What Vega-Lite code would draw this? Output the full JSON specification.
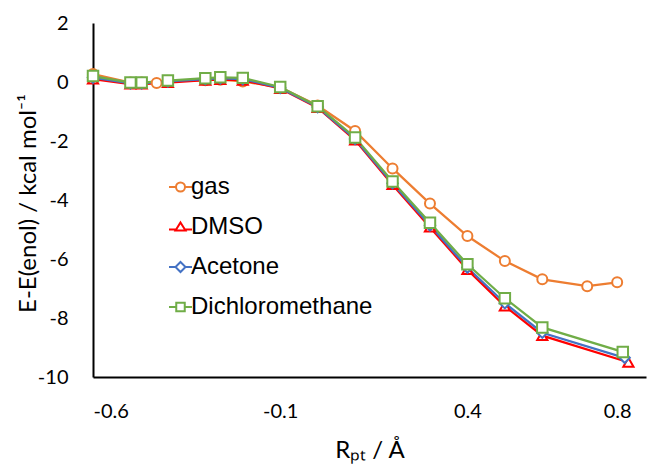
{
  "$schema": "https://vega.github.io/schema/vega-lite/v6.json",
  "width": 553,
  "height": 354,
  "autosize": {"type": "none"},
  "padding": {"left": 93, "top": 23, "right": 3, "bottom": 94},
  "background": "white",
  "config": {"view": {"stroke": null}},
  "data": {"values": [
    {"s": "gas", "x": -0.6, "y": 0.27},
    {"s": "gas", "x": -0.5, "y": -0.02},
    {"s": "gas", "x": -0.47, "y": -0.02},
    {"s": "gas", "x": -0.43, "y": -0.03},
    {"s": "gas", "x": -0.4, "y": 0.02},
    {"s": "gas", "x": -0.3, "y": 0.06},
    {"s": "gas", "x": -0.26, "y": 0.08},
    {"s": "gas", "x": -0.2, "y": 0.02},
    {"s": "gas", "x": -0.1, "y": -0.18},
    {"s": "gas", "x": 0.0, "y": -0.8},
    {"s": "gas", "x": 0.1, "y": -1.66},
    {"s": "gas", "x": 0.2, "y": -2.93},
    {"s": "gas", "x": 0.3, "y": -4.12},
    {"s": "gas", "x": 0.4, "y": -5.22},
    {"s": "gas", "x": 0.5, "y": -6.07},
    {"s": "gas", "x": 0.6, "y": -6.69},
    {"s": "gas", "x": 0.72, "y": -6.92},
    {"s": "gas", "x": 0.8, "y": -6.79},
    {"s": "DMSO", "x": -0.6, "y": 0.1},
    {"s": "DMSO", "x": -0.5, "y": -0.07},
    {"s": "DMSO", "x": -0.47, "y": -0.07},
    {"s": "DMSO", "x": -0.4, "y": -0.02},
    {"s": "DMSO", "x": -0.3, "y": 0.06},
    {"s": "DMSO", "x": -0.26, "y": 0.08},
    {"s": "DMSO", "x": -0.2, "y": 0.06},
    {"s": "DMSO", "x": -0.1, "y": -0.22},
    {"s": "DMSO", "x": 0.0, "y": -0.87},
    {"s": "DMSO", "x": 0.1, "y": -1.97},
    {"s": "DMSO", "x": 0.2, "y": -3.48},
    {"s": "DMSO", "x": 0.3, "y": -4.92},
    {"s": "DMSO", "x": 0.4, "y": -6.36},
    {"s": "DMSO", "x": 0.5, "y": -7.6},
    {"s": "DMSO", "x": 0.6, "y": -8.6},
    {"s": "DMSO", "x": 0.83, "y": -9.5},
    {"s": "Acetone", "x": -0.6, "y": 0.15},
    {"s": "Acetone", "x": -0.5, "y": -0.05},
    {"s": "Acetone", "x": -0.47, "y": -0.05},
    {"s": "Acetone", "x": -0.4, "y": 0.02},
    {"s": "Acetone", "x": -0.3, "y": 0.1},
    {"s": "Acetone", "x": -0.26, "y": 0.12},
    {"s": "Acetone", "x": -0.2, "y": 0.1},
    {"s": "Acetone", "x": -0.1, "y": -0.2},
    {"s": "Acetone", "x": 0.0, "y": -0.85},
    {"s": "Acetone", "x": 0.1, "y": -1.93},
    {"s": "Acetone", "x": 0.2, "y": -3.43},
    {"s": "Acetone", "x": 0.3, "y": -4.86},
    {"s": "Acetone", "x": 0.4, "y": -6.29},
    {"s": "Acetone", "x": 0.5, "y": -7.5},
    {"s": "Acetone", "x": 0.6, "y": -8.5},
    {"s": "Acetone", "x": 0.82, "y": -9.35},
    {"s": "Dichloromethane", "x": -0.6, "y": 0.2},
    {"s": "Dichloromethane", "x": -0.5, "y": -0.02},
    {"s": "Dichloromethane", "x": -0.47, "y": -0.02},
    {"s": "Dichloromethane", "x": -0.4, "y": 0.05},
    {"s": "Dichloromethane", "x": -0.3, "y": 0.13},
    {"s": "Dichloromethane", "x": -0.26, "y": 0.16},
    {"s": "Dichloromethane", "x": -0.2, "y": 0.14},
    {"s": "Dichloromethane", "x": -0.1, "y": -0.17},
    {"s": "Dichloromethane", "x": 0.0, "y": -0.82},
    {"s": "Dichloromethane", "x": 0.1, "y": -1.88},
    {"s": "Dichloromethane", "x": 0.2, "y": -3.37},
    {"s": "Dichloromethane", "x": 0.3, "y": -4.77},
    {"s": "Dichloromethane", "x": 0.4, "y": -6.18},
    {"s": "Dichloromethane", "x": 0.5, "y": -7.33},
    {"s": "Dichloromethane", "x": 0.6, "y": -8.32},
    {"s": "Dichloromethane", "x": 0.815, "y": -9.15}
  ]},
  "encoding": {
    "x": {
      "field": "x", "type": "quantitative",
      "scale": {"domain": [-0.6, 0.877], "nice": false, "zero": false},
      "axis": {
        "values": [-0.6, -0.1, 0.4, 0.8],
        "format": ".1f",
        "labelExpr": "replace(datum.label, '\u2212', '-')",
        "title": "Rₚₜ / Å",
        "grid": false, "ticks": false,
        "domainColor": "#000000", "domainWidth": 2,
        "labelFont": "Lato", "labelFontSize": 20, "labelColor": "#000000",
        "labelPadding": 24,
        "titleFont": "Lato", "titleFontSize": 24, "titleFontWeight": "normal", "titleColor": "#000000",
        "titlePadding": 17
      }
    },
    "y": {
      "field": "y", "type": "quantitative",
      "scale": {"domain": [-10, 2], "nice": false, "zero": false},
      "axis": {
        "values": [-10, -8, -6, -4, -2, 0, 2],
        "format": "d",
        "labelExpr": "replace(datum.label, '\u2212', '-')",
        "title": "E-E(enol) / kcal mol⁻¹",
        "grid": false, "ticks": false,
        "domainColor": "#000000", "domainWidth": 2,
        "labelFont": "Lato", "labelFontSize": 20, "labelColor": "#000000",
        "labelPadding": 25,
        "titleFont": "Lato", "titleFontSize": 24, "titleFontWeight": "normal", "titleColor": "#000000",
        "titleX": -65,
        "titleY": 180,
        "titleBaseline": "middle",
        "titleAngle": -90
      }
    }
  },
  "resolve": {
    "scale": {"stroke": "independent", "shape": "independent", "size": "independent"},
    "legend": {"stroke": "independent", "shape": "independent"}
  },
  "layer": [
    {
      "mark": {"type": "line", "strokeWidth": 2.25},
      "encoding": {
        "stroke": {
          "field": "s", "type": "nominal",
          "scale": {"domain": ["gas", "DMSO", "Acetone", "Dichloromethane"], "range": ["#ED7D31", "#FF0000", "#4472C4", "#70AD47"]},
          "legend": null
        }
      }
    },
    {
      "mark": {"type": "point", "filled": false, "fill": "white", "fillOpacity": 1, "opacity": 1, "strokeWidth": 2},
      "encoding": {
        "stroke": {
          "field": "s", "type": "nominal",
          "scale": {"domain": ["gas", "DMSO", "Acetone", "Dichloromethane"], "range": ["#ED7D31", "#FF0000", "#4472C4", "#70AD47"]},
          "legend": null
        },
        "shape": {
          "field": "s", "type": "nominal",
          "scale": {"domain": ["gas", "DMSO", "Acetone", "Dichloromethane"], "range": ["circle", "triangle-up", "diamond", "square"]},
          "legend": null
        },
        "size": {
          "field": "s", "type": "nominal",
          "scale": {"domain": ["gas", "DMSO", "Acetone", "Dichloromethane"], "range": [100, 110, 110, 120]},
          "legend": null
        }
      }
    },
    {
      "mark": {"type": "point", "filled": false, "opacity": 0, "strokeWidth": 2, "size": 100},
      "encoding": {
        "stroke": {
          "field": "s", "type": "nominal",
          "scale": {"domain": ["gas", "DMSO", "Acetone", "Dichloromethane"], "range": ["#ED7D31", "#FF0000", "#4472C4", "#70AD47"]},
          "legend": {
            "title": null,
            "orient": "none",
            "legendX": 75.5,
            "legendY": 152,
            "padding": 0,
            "symbolSize": 100,
            "symbolStrokeWidth": 2,
            "symbolOpacity": 1,
            "symbolFillColor": "white",
            "labelFont": "Liberation Sans",
            "labelFontSize": 24,
            "labelColor": "#000000",
            "labelOffset": -1.5,
            "labelLimit": 0,
            "rowPadding": 16
          }
        },
        "shape": {
          "field": "s", "type": "nominal",
          "scale": {"domain": ["gas", "DMSO", "Acetone", "Dichloromethane"], "range": [
            "M-2.3,0H-0.9M0.9,0H2.3M-0.9,0A0.9,0.9 0 1,1 0.9,0A0.9,0.9 0 1,1 -0.9,0Z",
            "M-2.3,0.5H-0.75M0.75,0.5H2.3M0,-0.9L1,0.7L-1,0.7Z",
            "M-2.3,0H-1M1,0H2.3M0,-1L1,0L0,1L-1,0Z",
            "M-2.3,0H-0.85M0.85,0H2.3M-0.85,-0.85H0.85V0.85H-0.85Z"
          ]},
          "legend": {
            "title": null,
            "orient": "none",
            "legendX": 75.5,
            "legendY": 152,
            "padding": 0,
            "symbolSize": 100,
            "symbolStrokeWidth": 2,
            "symbolOpacity": 1,
            "symbolFillColor": "white",
            "labelFont": "Liberation Sans",
            "labelFontSize": 24,
            "labelColor": "#000000",
            "labelOffset": -1.5,
            "labelLimit": 0,
            "rowPadding": 16
          }
        }
      }
    }
  ]
}
